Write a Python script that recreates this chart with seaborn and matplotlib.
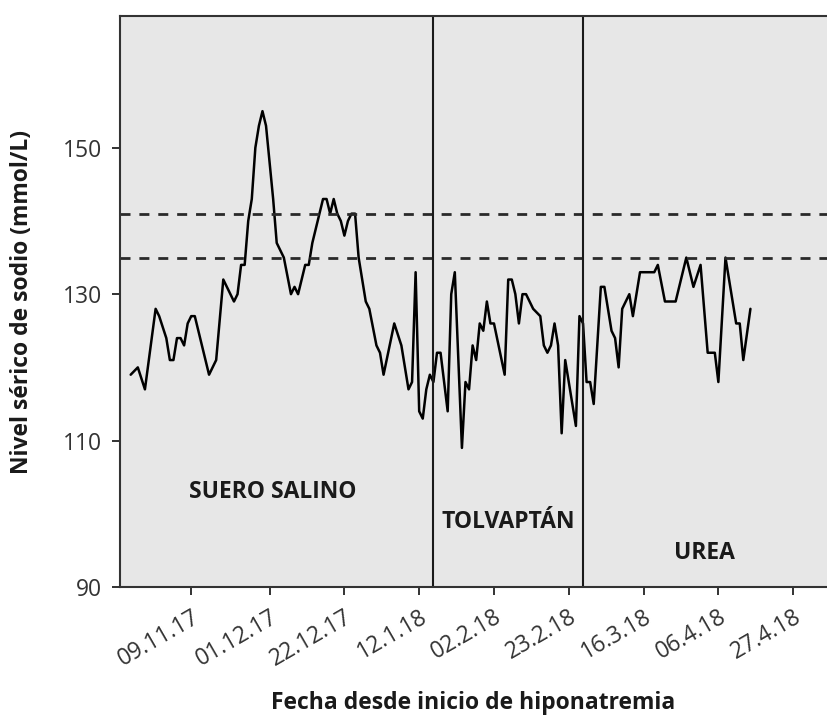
import matplotlib
matplotlib.use("Agg")
import matplotlib.pyplot as plt
import seaborn as sns
import pandas as pd

# Sodium readings (mmol/L)
fechas = [
    "2017-10-23", "2017-10-25", "2017-10-27", "2017-10-30", "2017-10-31",
    "2017-11-02", "2017-11-03", "2017-11-04", "2017-11-05", "2017-11-06",
    "2017-11-07", "2017-11-08", "2017-11-09", "2017-11-10", "2017-11-14",
    "2017-11-16", "2017-11-18", "2017-11-21", "2017-11-22", "2017-11-23",
    "2017-11-24", "2017-11-25", "2017-11-26", "2017-11-27", "2017-11-28",
    "2017-11-29", "2017-11-30", "2017-12-01", "2017-12-02", "2017-12-03",
    "2017-12-04", "2017-12-05", "2017-12-07", "2017-12-08", "2017-12-09",
    "2017-12-11", "2017-12-12", "2017-12-13", "2017-12-14", "2017-12-16",
    "2017-12-17", "2017-12-18", "2017-12-19", "2017-12-20", "2017-12-21",
    "2017-12-22", "2017-12-23", "2017-12-24", "2017-12-25", "2017-12-26",
    "2017-12-28", "2017-12-29", "2017-12-31", "2018-01-01", "2018-01-02",
    "2018-01-05", "2018-01-07", "2018-01-09", "2018-01-10", "2018-01-11",
    "2018-01-12", "2018-01-13", "2018-01-14", "2018-01-15", "2018-01-16",
    "2018-01-17", "2018-01-18", "2018-01-20", "2018-01-21", "2018-01-22",
    "2018-01-24", "2018-01-25", "2018-01-26", "2018-01-27", "2018-01-28",
    "2018-01-29", "2018-01-30", "2018-01-31", "2018-02-01", "2018-02-02",
    "2018-02-05", "2018-02-06", "2018-02-07", "2018-02-08", "2018-02-09",
    "2018-02-10", "2018-02-11", "2018-02-13", "2018-02-15", "2018-02-16",
    "2018-02-17", "2018-02-18", "2018-02-19", "2018-02-20", "2018-02-21",
    "2018-02-22", "2018-02-25", "2018-02-26", "2018-02-27", "2018-02-28",
    "2018-03-01", "2018-03-02", "2018-03-04", "2018-03-05", "2018-03-07",
    "2018-03-08", "2018-03-09", "2018-03-10", "2018-03-12", "2018-03-13",
    "2018-03-15", "2018-03-18", "2018-03-19", "2018-03-20", "2018-03-22",
    "2018-03-25", "2018-03-28", "2018-03-30", "2018-04-01", "2018-04-03",
    "2018-04-05", "2018-04-06", "2018-04-08", "2018-04-11", "2018-04-12",
    "2018-04-13", "2018-04-15",
]
sodio = [
    119, 120, 117, 128, 127,
    124, 121, 121, 124, 124,
    123, 126, 127, 127, 119,
    121, 132, 129, 130, 134,
    134, 140, 143, 150, 153,
    155, 153, 148, 143, 137,
    136, 135, 130, 131, 130,
    134, 134, 137, 139, 143,
    143, 141, 143, 141, 140,
    138, 140, 141, 141, 135,
    129, 128, 123, 122, 119,
    126, 123, 117, 118, 133,
    114, 113, 117, 119, 118,
    122, 122, 114, 130, 133,
    109, 118, 117, 123, 121,
    126, 125, 129, 126, 126,
    119, 132, 132, 130, 126,
    130, 130, 128, 127, 123,
    122, 123, 126, 123, 111,
    121, 112, 127, 126, 118,
    118, 115, 131, 131, 125,
    124, 120, 128, 130, 127,
    133, 133, 133, 134, 129,
    129, 135, 131, 134, 122,
    122, 118, 135, 126, 126,
    121, 128,
]

# reference band and treatment changes
limites_normales = [135, 141]
cambios_tratamiento = ["2018-01-16", "2018-02-27"]
tratamientos = ["SUERO SALINO", "TOLVAPTÁN", "UREA"]
pos_tratamientos = [("2017-12-02", 103.0), ("2018-02-06", 98.9), ("2018-04-02", 94.7)]

tick_fechas = ["2017-11-09", "2017-12-01", "2017-12-22", "2018-01-12", "2018-02-02",
               "2018-02-23", "2018-03-16", "2018-04-06", "2018-04-27"]
tick_labels = ["09.11.17", "01.12.17", "22.12.17", "12.1.18", "02.2.18",
               "23.2.18", "16.3.18", "06.4.18", "27.4.18"]

df = pd.DataFrame({"fecha": pd.to_datetime(fechas), "sodio": sodio})

sns.set_theme(style="white")
plt.rcParams["font.family"] = ["Open Sans", "DejaVu Sans"]

fig = plt.figure(figsize=(8.27, 7.18), dpi=100)
ax = fig.add_axes([120 / 827, 1 - 587 / 718, 707 / 827, 571 / 718])
ax.set_facecolor("#e7e7e7")

sns.lineplot(data=df, x="fecha", y="sodio", color="black", linewidth=1.8, ax=ax)

for v in limites_normales:
    ax.axhline(v, color="#2a2a2a", linewidth=2, linestyle=(0, (3.6, 3.2)))
for f in cambios_tratamiento:
    ax.axvline(pd.Timestamp(f), color="#1a1a1a", linewidth=1.5)

for nombre, (f, y) in zip(tratamientos, pos_tratamientos):
    ax.text(pd.Timestamp(f), y, nombre, ha="center", va="center",
            fontsize=16.5, fontweight="bold", color="#1a1a1a")

ax.set_xlim(pd.Timestamp("2017-10-20"), pd.Timestamp("2018-05-06 12:00"))
ax.set_ylim(90, 168)
ax.set_yticks([90, 110, 130, 150])
ax.set_xticks(pd.to_datetime(tick_fechas))
ax.set_xticklabels(tick_labels, rotation=30, ha="right", rotation_mode="anchor")

ax.tick_params(axis="both", which="major", direction="out", length=6, width=1.3,
               color="#222222", labelsize=16.5, labelcolor="#333333", pad=7,
               left=True, bottom=True)

for s in ["left", "top", "bottom"]:
    ax.spines[s].set_color("#333333")
    ax.spines[s].set_linewidth(1.5)
ax.spines["right"].set_visible(False)

ax.set_xlabel("Fecha desde inicio de hiponatremia", fontsize=16.5, fontweight="bold",
              color="#1a1a1a")
ax.set_ylabel("Nivel sérico de sodio (mmol/L)", fontsize=16.5, fontweight="bold",
              color="#1a1a1a")
ax.xaxis.set_label_coords(0.5, -0.183)
ax.yaxis.set_label_coords(-0.122, 0.5)

fig.savefig("out.png", dpi=100)
